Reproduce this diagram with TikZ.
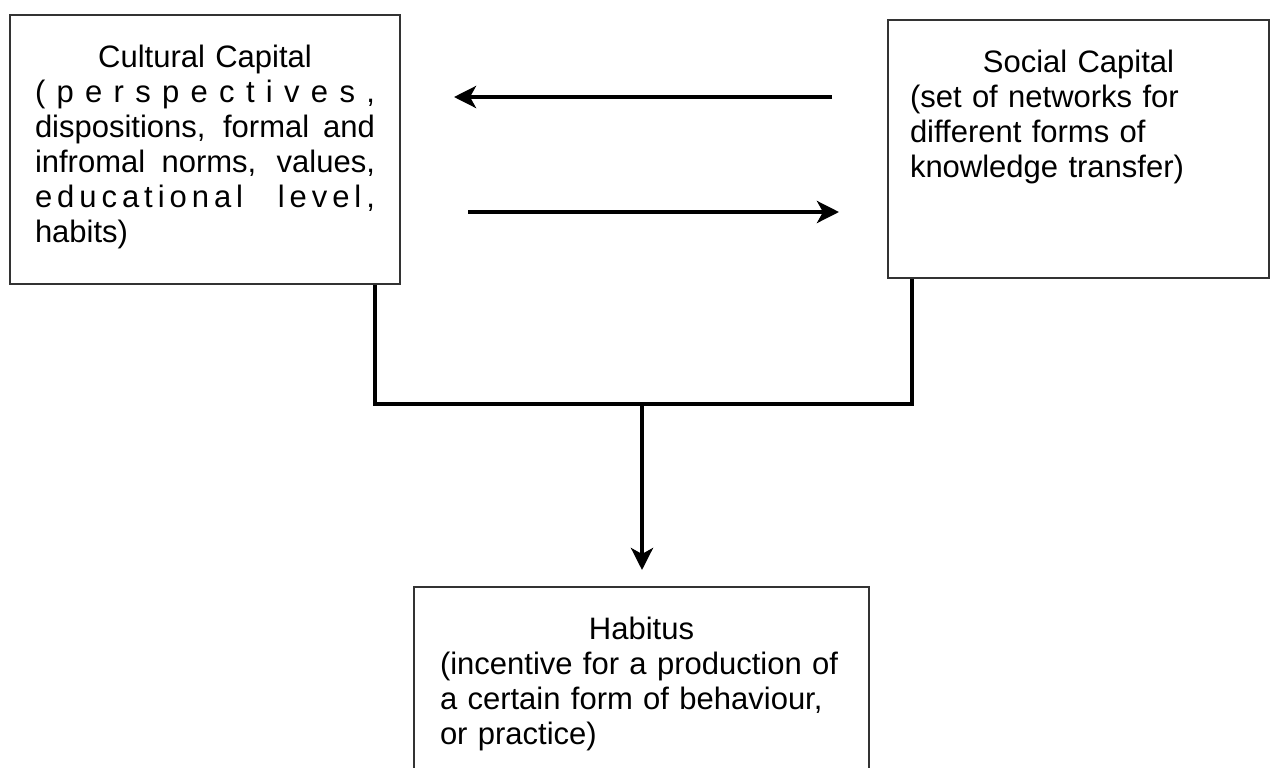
\documentclass[tikz,border=0pt]{standalone}
\usepackage{fontspec}
\setmainfont{Liberation Sans}
\usetikzlibrary{arrows.meta,positioning}
\newcommand\capfont{\fontsize{15.5pt}{17.5pt}\selectfont}
% a line spread out to the full text width
\newcommand\justline[1]{\makebox[\linewidth][s]{\spaceskip=0pt plus 1fil\xspaceskip=0pt plus 1fil #1}}
\tikzset{
  capbox/.style={draw=black!80, line width=1pt, anchor=north west, inner ysep=0pt,
    text height=26pt, font=\capfont, align=left},
  link/.style={line width=2pt},
  flow/.style={line width=2pt, -{Stealth[length=11pt,width=11pt,inset=3pt]}}
}
\begin{document}
\begin{tikzpicture}[x=0.5pt,y=-0.5pt]
	\clip (0,0) rectangle (1270,767);
	\node[capbox, inner xsep=12.5pt, text width=170pt, text depth=108.5pt] (cultural) at (9,14)
		{\makebox[\linewidth]{Cultural Capital}\\
		 \justline{( p e r s p e c t i v e s ,}\\
		 \justline{dispositions, formal and}\\
		 \justline{infromal norms, values,}\\
		 \justline{e d u c a t i o n a l \hspace{0pt plus 6fil}l e v e l ,}\\
		 habits)};
	\node[capbox, inner xsep=11pt, text width=168.5pt, text depth=103pt] (social) at (887,19)
		{\makebox[\linewidth]{Social Capital}\\
		 (set of networks for\\
		 different forms of\\
		 knowledge transfer)};
	\node[capbox, inner xsep=13pt, text width=201.5pt, text depth=74pt] (habitus) at (413,586)
		{\makebox[\linewidth]{Habitus}\\
		 (incentive for a production of\\
		 a certain form of behaviour,\\
		 or practice)};
	% arrows between the two capitals
	\coordinate (upper) at (0,97);
	\coordinate (lower) at (0,212);
	\draw[flow, shorten <=27.5pt, shorten >=26.5pt] (social.west |- upper) -- (cultural.east |- upper);
	\draw[flow, shorten <=33.5pt, shorten >=24pt] (cultural.east |- lower) -- (social.west |- lower);
	% joint link down to habitus
	\coordinate (join) at (642,404);
	\draw[link] ([xshift=-13pt]cultural.south east) |- ([xshift=12.5pt]social.south west |- join) -- ([xshift=12.5pt]social.south west);
	\draw[flow, shorten >=8pt] (join) -- (join |- habitus.north);
\end{tikzpicture}
\end{document}
